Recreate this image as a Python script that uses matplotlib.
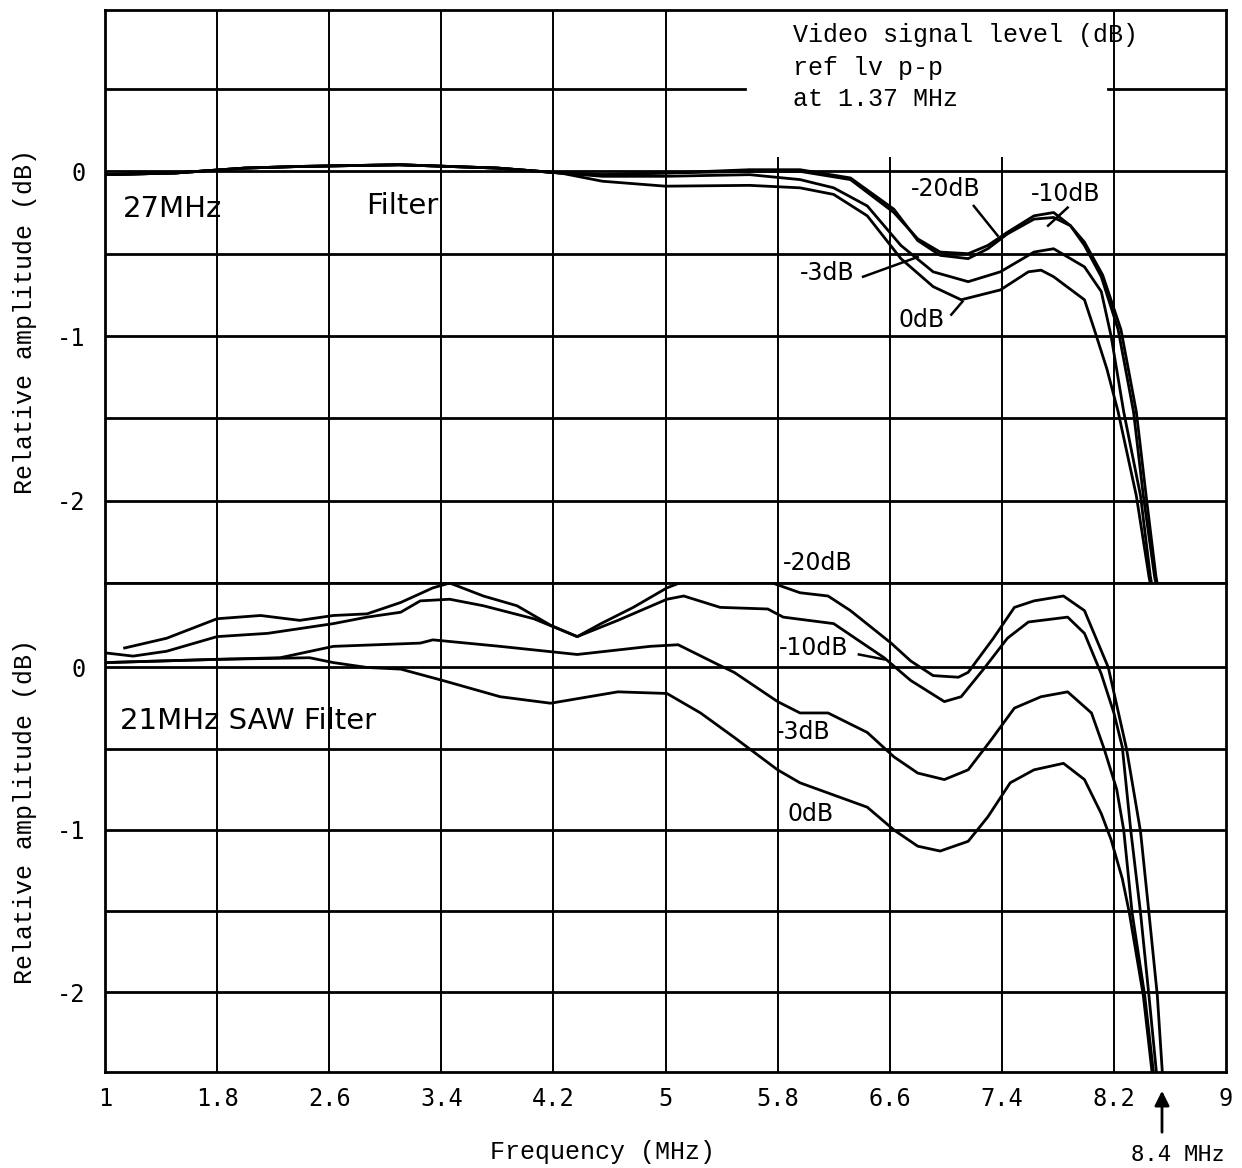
import matplotlib.pyplot as plt

# frequency axis
freq_ticks = [1, 1.8, 2.6, 3.4, 4.2, 5, 5.8, 6.6, 7.4, 8.2, 9]
freq_labels = ['1', '1.8', '2.6', '3.4', '4.2', '5', '5.8', '6.6', '7.4', '8.2', '9']
amp_ticks = [0, -1, -2]
amp_labels = ['0', '-1', '-2']

# 27 MHz filter (upper panel), one curve per video signal level
up_0db_f = [1.0, 1.5, 2.0, 2.4, 3.1, 3.8, 4.25, 4.55, 5.0, 5.6, 5.96, 6.2, 6.44, 6.68, 6.91, 7.11, 7.39, 7.59, 7.68, 7.77,
            7.99, 8.06, 8.15, 8.23, 8.36, 8.45, 8.47]
up_0db = [-0.02, -0.01, 0.02, 0.03, 0.04, 0.02, -0.01, -0.06, -0.09, -0.085, -0.10, -0.14, -0.27, -0.53, -0.70, -0.78,
          -0.72, -0.61, -0.60, -0.64, -0.78, -0.96, -1.2, -1.46, -1.97, -2.46, -2.55]

up_3db_f = [1.0, 1.5, 2.0, 2.4, 3.1, 3.8, 4.25, 4.55, 5.0, 5.6, 5.96, 6.2, 6.44, 6.68, 6.91, 7.16, 7.39, 7.63, 7.77, 7.99,
            8.11, 8.18, 8.27, 8.39, 8.46, 8.48]
up_3db = [-0.02, -0.01, 0.02, 0.03, 0.04, 0.02, -0.01, -0.03, -0.03, -0.02, -0.05, -0.10, -0.21, -0.45, -0.61, -0.67,
          -0.61, -0.49, -0.47, -0.58, -0.73, -1.0, -1.46, -1.97, -2.46, -2.55]

up_10db_f = [1.0, 1.5, 2.0, 2.4, 3.1, 3.8, 4.25, 4.55, 5.0, 5.6, 5.96, 6.32, 6.63, 6.80, 6.96, 7.16, 7.30, 7.44, 7.63,
             7.77, 7.89, 7.99, 8.11, 8.23, 8.34, 8.41, 8.49, 8.51]
up_10db = [-0.02, -0.01, 0.02, 0.03, 0.04, 0.02, -0.01, -0.02, -0.01, 0.0, 0.0, -0.05, -0.25, -0.41, -0.49, -0.50,
           -0.45, -0.37, -0.27, -0.25, -0.33, -0.45, -0.64, -0.96, -1.46, -1.97, -2.46, -2.55]

up_20db_f = [1.0, 1.5, 2.0, 2.4, 3.1, 3.8, 4.25, 4.55, 5.0, 5.6, 5.96, 6.32, 6.63, 6.80, 6.96, 7.16, 7.30, 7.44, 7.63,
             7.77, 7.89, 7.99, 8.12, 8.25, 8.36, 8.43, 8.50, 8.52]
up_20db = [-0.02, -0.01, 0.02, 0.03, 0.04, 0.02, -0.01, -0.02, -0.01, 0.01, 0.01, -0.04, -0.23, -0.42, -0.51, -0.53,
           -0.47, -0.38, -0.29, -0.28, -0.33, -0.43, -0.63, -0.96, -1.46, -1.97, -2.46, -2.55]

# 21 MHz SAW filter (lower panel)
lo_0db_f = [1.0, 1.8, 2.46, 2.63, 2.87, 3.11, 3.41, 3.82, 4.18, 4.66, 5.01, 5.25, 5.49, 5.8, 5.96, 6.44, 6.63, 6.8,
            6.96, 7.16, 7.3, 7.46, 7.63, 7.84, 7.99, 8.11, 8.18, 8.26, 8.31, 8.41, 8.48]
lo_0db = [0.03, 0.05, 0.06, 0.03, 0.0, -0.01, -0.08, -0.18, -0.22, -0.15, -0.16, -0.28, -0.43, -0.63, -0.71, -0.86,
          -1.0, -1.10, -1.13, -1.07, -0.92, -0.71, -0.63, -0.59, -0.69, -0.9, -1.06, -1.3, -1.51, -2.02, -2.55]

lo_3db_f = [1.0, 1.8, 2.25, 2.63, 3.25, 3.34, 3.82, 4.37, 4.89, 5.09, 5.37, 5.49, 5.8, 5.96, 6.16, 6.44, 6.63, 6.8,
            6.99, 7.16, 7.32, 7.49, 7.68, 7.87, 8.04, 8.13, 8.22, 8.27, 8.33, 8.42, 8.49]
lo_3db = [0.03, 0.05, 0.06, 0.13, 0.15, 0.17, 0.13, 0.08, 0.13, 0.14, 0.02, -0.03, -0.21, -0.28, -0.28, -0.40, -0.55,
          -0.65, -0.69, -0.63, -0.45, -0.25, -0.18, -0.15, -0.28, -0.5, -0.75, -1.0, -1.51, -2.02, -2.55]

lo_10db_f = [1.0, 1.2, 1.44, 1.8, 2.16, 2.63, 2.87, 3.11, 3.25, 3.46, 3.7, 4.06, 4.37, 4.66, 5.01, 5.13, 5.39, 5.73,
             5.84, 6.2, 6.56, 6.75, 6.99, 7.11, 7.27, 7.44, 7.59, 7.87, 7.99, 8.11, 8.2, 8.26, 8.32, 8.39, 8.45, 8.51]
lo_10db = [0.09, 0.07, 0.10, 0.19, 0.21, 0.27, 0.31, 0.34, 0.41, 0.42, 0.38, 0.30, 0.19, 0.29, 0.42, 0.44, 0.37, 0.36,
           0.31, 0.27, 0.06, -0.08, -0.21, -0.18, -0.01, 0.18, 0.28, 0.31, 0.21, -0.04, -0.28, -0.49, -1.0, -1.51,
           -2.02, -2.55]

lo_20db_f = [1.14, 1.44, 1.8, 2.11, 2.39, 2.63, 2.87, 3.11, 3.34, 3.46, 3.7, 3.94, 4.18, 4.37, 4.54, 4.77, 5.01, 5.13,
             5.49, 5.73, 5.96, 6.16, 6.32, 6.61, 6.75, 6.91, 7.09, 7.16, 7.34, 7.49, 7.63, 7.84, 7.99, 8.16, 8.29,
             8.39, 8.45, 8.51, 8.55]
lo_20db = [0.12, 0.18, 0.30, 0.32, 0.29, 0.32, 0.33, 0.40, 0.49, 0.52, 0.44, 0.38, 0.26, 0.19, 0.27, 0.37, 0.49, 0.53,
           0.52, 0.53, 0.46, 0.44, 0.35, 0.15, 0.04, -0.05, -0.06, -0.03, 0.18, 0.37, 0.41, 0.44, 0.35, 0.0, -0.5,
           -1.01, -1.51, -2.02, -2.55]

W, H = 1242, 1168
fig = plt.figure(figsize=(W / 100, H / 100), dpi=100)
fig.patch.set_facecolor('white')

ax1 = fig.add_axes([105 / W, 1 - 583 / H, 1121 / W, 573 / H])
ax2 = fig.add_axes([105 / W, 1 - 1072 / H, 1121 / W, 489 / H])

ax1.set_ylim(-2.5, 0.98)
ax2.set_ylim(-2.49, 0.52)

mono = 'Liberation Mono'
hand = 'DejaVu Sans'

for ax in (ax1, ax2):
    ax.set_xlim(1, 9)
    for yv in [0, -0.5, -1, -1.5, -2]:
        ax.axhline(yv, color='black', lw=2, zorder=1)
    for s in ax.spines.values():
        s.set_linewidth(2)
    ax.set_yticks(amp_ticks)
    ax.set_yticklabels(amp_labels, family='DejaVu Sans Mono', fontsize=17)
    ax.tick_params(length=0, pad=14)

# vertical grid: in the top panel the 5.8 - 7.4 lines stop below the legend text
for xv in freq_ticks[1:-1]:
    ax2.axvline(xv, color='black', lw=1.4, zorder=1)
    if 5.5 < xv < 8:
        ax1.plot([xv, xv], [-2.5, 0.08], color='black', lw=1.4, zorder=1)
    else:
        ax1.axvline(xv, color='black', lw=1.4, zorder=1)

# upper +0.5 line is broken where the legend text sits
ax1.plot([1, 5.57], [0.5, 0.5], color='black', lw=2, zorder=1)
ax1.plot([8.16, 9], [0.5, 0.5], color='black', lw=2, zorder=1)

ax1.set_xticks(freq_ticks)
ax1.set_xticklabels([])
ax2.set_xticks(freq_ticks)
ax2.set_xticklabels(freq_labels, family='DejaVu Sans Mono', fontsize=17)
ax2.tick_params(axis='x', pad=11)

for f, a in [(up_0db_f, up_0db), (up_3db_f, up_3db), (up_10db_f, up_10db), (up_20db_f, up_20db)]:
    ax1.plot(f, a, color='black', lw=2, zorder=3)
for f, a in [(lo_0db_f, lo_0db), (lo_3db_f, lo_3db), (lo_10db_f, lo_10db), (lo_20db_f, lo_20db)]:
    ax2.plot(f, a, color='black', lw=2, zorder=3)

# handwritten style labels, upper panel
ax1.text(1.13, -0.23, '27MHz', family=hand, fontsize=21, va='center')
ax1.text(2.86, -0.21, 'Filter', family=hand, fontsize=21, va='center')
ax1.text(6.75, -0.11, '-20dB', family=hand, fontsize=17, va='center')
ax1.text(7.61, -0.14, '-10dB', family=hand, fontsize=17, va='center')
ax1.text(5.96, -0.62, '-3dB', family=hand, fontsize=17, va='center')
ax1.text(6.66, -0.90, '0dB', family=hand, fontsize=17, va='center')
ax1.plot([7.2, 7.37], [-0.21, -0.39], color='black', lw=1.8)
ax1.plot([7.87, 7.73], [-0.22, -0.33], color='black', lw=1.8)
ax1.plot([6.41, 6.8], [-0.64, -0.52], color='black', lw=1.8)
ax1.plot([7.04, 7.12], [-0.87, -0.79], color='black', lw=1.8)

ax1.text(5.91, 0.83, 'Video signal level (dB)', family=mono, fontsize=18, va='center')
ax1.text(5.91, 0.63, 'ref lv p-p', family=mono, fontsize=18, va='center')
ax1.text(5.91, 0.44, 'at 1.37 MHz', family=mono, fontsize=18, va='center')

# lower panel labels
ax1.text(5.84, -2.38, '-20dB', family=hand, fontsize=17, va='center')
ax2.text(5.81, 0.12, '-10dB', family=hand, fontsize=17, va='center')
ax2.plot([6.38, 6.56], [0.08, 0.05], color='black', lw=1.8)
ax2.text(5.79, -0.40, '-3dB', family=hand, fontsize=17, va='center')
ax2.text(5.87, -0.90, '0dB', family=hand, fontsize=17, va='center')
ax2.text(1.11, -0.33, '21MHz SAW Filter', family=hand, fontsize=21, va='center')

# axis titles
fig.text(25 / W, 1 - 322 / H, 'Relative amplitude (dB)', family=mono, fontsize=18,
         rotation=90, ha='center', va='center')
fig.text(25 / W, 1 - 812 / H, 'Relative amplitude (dB)', family=mono, fontsize=18,
         rotation=90, ha='center', va='center')
fig.text(603 / W, 1 - 1152 / H, 'Frequency (MHz)', family=mono, fontsize=18, ha='center', va='center')

# 8.4 MHz marker
fig.text(1178 / W, 1 - 1155 / H, '8.4 MHz', family='DejaVu Sans Mono', fontsize=16, ha='center', va='center')
ax2.annotate('', xy=(1162 / W, 1 - 1088 / H), xytext=(1162 / W, 1 - 1135 / H), xycoords='figure fraction',
             textcoords='figure fraction',
             arrowprops=dict(arrowstyle='-|>', color='black', lw=2, mutation_scale=22))

fig.savefig('out.png', dpi=100)
